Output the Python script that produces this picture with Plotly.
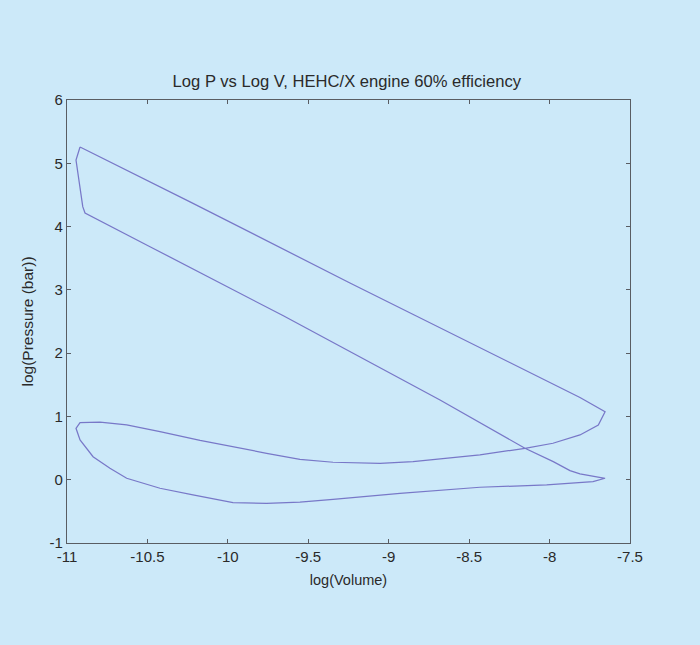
import plotly.graph_objects as go

# Closed log P - log V cycle
log_v = [
    -10.919, -10.235, -9.241, -8.016, -7.811, -7.655,
    -7.697, -7.811, -7.979, -8.153, -8.433, -8.849, -9.054, -9.346, -9.552,
    -9.759, -9.968, -10.173, -10.422, -10.629, -10.795, -10.919, -10.944,
    -10.919, -10.838, -10.733, -10.629, -10.422, -10.217, -9.968, -9.759,
    -9.552, -9.346, -9.137, -8.930, -8.433, -8.018, -7.730, -7.655,
    -7.811, -7.873, -7.977, -8.153, -8.681, -9.655, -10.484, -10.888,
    -10.902, -10.944, -10.919,
]
log_p = [
    5.257, 4.390, 3.109, 1.560, 1.300, 1.075,
    0.865, 0.707, 0.576, 0.497, 0.391, 0.285, 0.260, 0.276, 0.323,
    0.418, 0.522, 0.620, 0.759, 0.865, 0.908, 0.901, 0.813,
    0.628, 0.364, 0.181, 0.023, -0.135, -0.241, -0.363, -0.372,
    -0.356, -0.309, -0.257, -0.214, -0.119, -0.083, -0.031, 0.023,
    0.091, 0.143, 0.285, 0.497, 1.260, 2.590, 3.682, 4.215,
    4.314, 5.052, 5.257,
]

x_ticks = [-11, -10.5, -10, -9.5, -9, -8.5, -8, -7.5]
y_ticks = [-1, 0, 1, 2, 3, 4, 5, 6]

bg = "#cce9f9"
font = "Liberation Sans, Arial, sans-serif"
text_color = "#2a2a2a"

fig = go.Figure()
fig.add_trace(go.Scatter(
    x=log_v, y=log_p, mode="lines",
    line=dict(color="#7878c8", width=1.25),
    hoverinfo="skip", showlegend=False,
))

axis_common = dict(
    showline=True, linecolor="#595d63", linewidth=1.2, mirror="ticks",
    ticks="inside", ticklen=4, tickcolor="#595d63", tickwidth=1,
    showgrid=False, zeroline=False,
    tickfont=dict(family=font, size=15, color=text_color),
)

fig.update_xaxes(
    range=[-11, -7.5], tickvals=x_ticks,
    ticktext=[f"{v:g}" for v in x_ticks],
    title=dict(text="log(Volume)", font=dict(family=font, size=14.5, color=text_color), standoff=10),
    **axis_common,
)
fig.update_yaxes(
    range=[-1, 6], tickvals=y_ticks,
    ticktext=[str(v) for v in y_ticks],
    title=dict(text="log(Pressure (bar))", font=dict(family=font, size=15.5, color=text_color), standoff=12),
    **axis_common,
)

fig.update_layout(
    width=700, height=645,
    margin=dict(l=67, r=70, t=100, b=102),
    paper_bgcolor=bg, plot_bgcolor=bg,
    title=dict(
        text="Log P vs Log V, HEHC/X engine 60% efficiency",
        font=dict(family=font, size=16.6, color=text_color),
        x=0.497, xanchor="center", y=1 - 81 / 645, yanchor="middle",
        xref="paper", yref="container",
    ),
)

fig.write_html(
    "out.html",
    config={"displayModeBar": False, "staticPlot": True},
    post_script="document.body.style.margin='0';document.body.style.background='#cce9f9';document.body.style.overflow='hidden';",
)
